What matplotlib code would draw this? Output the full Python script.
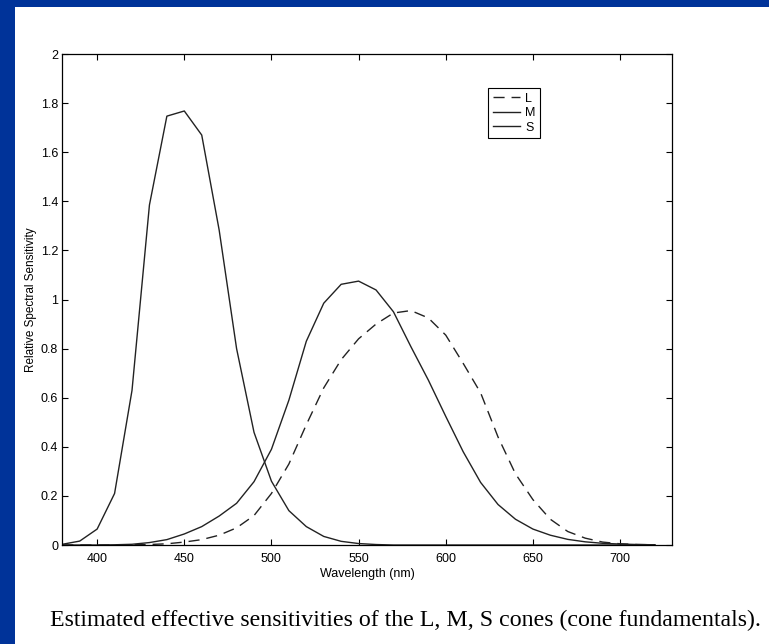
import numpy as np
import matplotlib
matplotlib.use("Agg")
import matplotlib.pyplot as plt
from matplotlib.patches import Rectangle

# wavelengths (nm), 10 nm steps
wavelength = [380, 390, 400, 410, 420, 430, 440, 450, 460, 470, 480, 490, 500,
              510, 520, 530, 540, 550, 560, 570, 580, 590, 600, 610, 620, 630,
              640, 650, 660, 670, 680, 690, 700, 710, 720]

# cone sensitivities
L_cone = [0.0, 0.0, 0.0, 0.0, 0.001, 0.002, 0.005, 0.012, 0.022, 0.04, 0.07,
          0.12, 0.21, 0.33, 0.49, 0.64, 0.755, 0.84, 0.90, 0.945, 0.955, 0.925,
          0.855, 0.74, 0.62, 0.44, 0.29, 0.185, 0.105, 0.055, 0.028, 0.012,
          0.005, 0.002, 0.001]
M_cone = [0.0, 0.0, 0.0, 0.001, 0.003, 0.01, 0.022, 0.045, 0.075, 0.118, 0.17,
          0.258, 0.39, 0.59, 0.83, 0.985, 1.062, 1.075, 1.039, 0.95, 0.808,
          0.672, 0.524, 0.38, 0.255, 0.165, 0.105, 0.065, 0.04, 0.023, 0.013,
          0.007, 0.004, 0.002, 0.001]
S_cone = [0.003, 0.016, 0.065, 0.21, 0.63, 1.385, 1.747, 1.768, 1.67, 1.283,
          0.80, 0.459, 0.26, 0.14, 0.075, 0.035, 0.015, 0.006, 0.002, 0.0, 0.0,
          0.0, 0.0, 0.0, 0.0, 0.0, 0.0, 0.0, 0.0, 0.0, 0.0, 0.0, 0.0, 0.0, 0.0]

yticks = [0, 0.2, 0.4, 0.6, 0.8, 1, 1.2, 1.4, 1.6, 1.8, 2]
ytick_labels = ["0", "0.2", "0.4", "0.6", "0.8", "1", "1.2", "1.4", "1.6", "1.8", "2"]
xticks = [400, 450, 500, 550, 600, 650, 700]

caption = "Estimated effective sensitivities of the L, M, S cones (cone fundamentals)."

plt.rcParams['font.family'] = ['Liberation Sans', 'DejaVu Sans']

fig = plt.figure(figsize=(7.69, 6.44), dpi=100)
fig.patch.set_facecolor("white")

# blue slide frame
blue = "#003399"
fig.patches.append(Rectangle((0, 1 - 7 / 644), 1, 7 / 644, transform=fig.transFigure,
                             facecolor=blue, edgecolor="none", zorder=0))
fig.patches.append(Rectangle((0, 0), 15 / 769, 1, transform=fig.transFigure,
                             facecolor=blue, edgecolor="none", zorder=0))

ax = fig.add_axes([0.081, 0.1537, 0.7933, 0.7624])

line_kw = dict(color="#222222", linewidth=1.0)
ax.plot(wavelength, L_cone, label="L", dashes=(8, 5), **line_kw)
ax.plot(wavelength, M_cone, label="M", **line_kw)
ax.plot(wavelength, S_cone, label="S", **line_kw)

ax.set_xlim(380, 730)
ax.set_ylim(0, 2)
ax.set_xticks(xticks)
ax.set_yticks(yticks)
ax.set_yticklabels(ytick_labels)
ax.tick_params(direction="in", length=4, width=0.8, labelsize=9,
               top=True, right=True)
ax.tick_params(axis="x", pad=6)
ax.tick_params(axis="y", pad=3)
for sp in ax.spines.values():
    sp.set_linewidth(0.9)

ax.set_xlabel("Wavelength (nm)", fontsize=9, labelpad=2)
ax.set_ylabel("Relative Spectral Sensitivity", fontsize=8.5, labelpad=3)

leg = ax.legend(loc="upper left", bbox_to_anchor=(0.688, 0.943), fontsize=9,
                handlelength=2.2, handletextpad=0.4, labelspacing=0.2,
                borderpad=0.35, fancybox=False, framealpha=1)
leg.get_frame().set_edgecolor("black")
leg.get_frame().set_linewidth(0.8)

fig.text(50 / 769, 1 - 620 / 644, caption, fontsize=17.2, va="center", ha="left",
         family=["Liberation Serif", "DejaVu Serif"])

fig.savefig("out.png", dpi=100)
